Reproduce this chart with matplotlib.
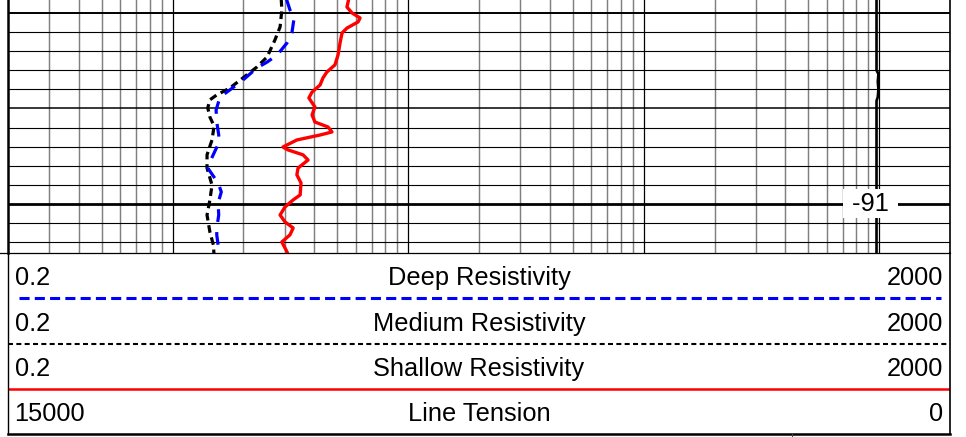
import matplotlib.pyplot as plt
from matplotlib.transforms import blended_transform_factory
from matplotlib.lines import Line2D

plt.rcParams['font.family'] = ['Liberation Sans', 'DejaVu Sans']

# elevation (ft) and curve readings taken off the log
shallow_elev = [-80.2, -80.69, -81.0, -81.26, -81.47, -81.79, -82.05, -82.57, -83.2, -83.72,
                -84.09, -84.4, -84.77, -85.14, -85.45, -85.92, -86.34, -86.71, -86.97, -87.23,
                -87.39, -87.65, -88.02, -88.17, -88.43, -88.7, -89.12, -89.48, -89.9, -90.53,
                -90.79, -91.16, -91.58, -91.94, -92.26, -92.62, -92.99, -93.51, -93.7]
shallow_res = [5.61, 5.50, 5.78, 6.25, 6.13, 5.50, 5.24, 5.14, 5.04, 4.89,
               4.52, 4.35, 4.23, 3.91, 3.79, 4.02, 3.91, 4.02, 4.57, 4.75,
               4.23, 3.37, 2.94, 3.09, 3.58, 3.76, 3.41, 3.37, 3.51, 3.48,
               3.25, 3.00, 2.86, 3.00, 3.25, 3.15, 2.91, 3.06, 3.10]

medium_elev = [-80.2, -80.84, -81.73, -82.41, -83.3, -83.83, -84.4, -84.93, -85.29, -85.55,
               -85.97, -86.45, -86.92, -87.65, -88.43, -89.12, -90.01, -90.79, -91.58, -92.47,
               -93.15, -93.7]
medium_res = [2.89, 2.91, 2.86, 2.72, 2.52, 2.28, 1.99, 1.75, 1.54, 1.44,
              1.41, 1.44, 1.50, 1.47, 1.40, 1.40, 1.47, 1.44, 1.40, 1.44,
              1.49, 1.50]

deep_elev = [-80.2, -80.84, -81.26, -82.05, -82.57, -83.2, -83.57, -83.88, -84.51, -85.03,
             -85.4, -86.08, -86.71, -87.39, -87.81, -88.8, -89.12, -89.9, -90.37, -90.95,
             -91.58, -92.26, -92.62, -93.41, -93.7]
deep_res = [3.03, 3.15, 3.28, 3.21, 3.06, 2.78, 2.52, 2.28, 1.99, 1.75,
            1.59, 1.53, 1.54, 1.57, 1.57, 1.44, 1.41, 1.56, 1.61, 1.56,
            1.57, 1.54, 1.54, 1.57, 1.57]

tension_elev = [-80.2, -84.0, -84.2, -84.6, -85.0, -85.4, -85.6, -93.7]
tension_val = [1170, 1170, 1140, 1150, 1140, 1150, 1170, 1170]

res_range = (0.2, 2000)
tension_range = (15000, 0)
elev_range = (-93.57, -80.32)
depth_label = -91

header_rows = [('0.2', 'Deep Resistivity', '2000'),
               ('0.2', 'Medium Resistivity', '2000'),
               ('0.2', 'Shallow Resistivity', '2000'),
               ('15000', 'Line Tension', '0')]

FS = 18.3
W, H = 966, 437
fig = plt.figure(figsize=(W / 100, H / 100), dpi=100)

# ---- log track
ax = fig.add_axes([8 / W, (H - 253) / H, 942 / W, 253 / H])
ax.set_xscale('log')
ax.set_xlim(*res_range)
ax.set_ylim(*elev_range)
ax.set_xticks([])
ax.set_yticks([])
ax.minorticks_off()
ax.spines['top'].set_visible(False)
ax.spines['left'].set_linewidth(1.8)
ax.spines['right'].set_linewidth(1.2)
ax.spines['bottom'].set_linewidth(0.9)

# vertical log grid
for e in [-1, 0, 1, 2, 3]:
    for m in range(1, 10):
        v = m * 10.0 ** e
        if v <= res_range[0] or v >= res_range[1]:
            continue
        if m == 1:
            ax.axvline(v, color='black', lw=0.9, zorder=1)
        else:
            ax.axvline(v, color='#808080', lw=1.05, zorder=1)

# horizontal depth grid
for el in range(-93, -80):
    if el == -91:
        lw = 2.0
    elif el == -81:
        lw = 1.4
    elif el == -86:
        lw = 1.1
    else:
        lw = 0.8
    ax.axhline(el, color='black', lw=lw, zorder=1)

ax.plot(shallow_res, shallow_elev, color='red', lw=2.4, zorder=3)
ax.plot(medium_res, medium_elev, color='black', lw=2.3, dashes=(2.4, 1.5), zorder=3)
ax.plot(deep_res, deep_elev, color='blue', lw=2.3, dashes=(4, 3.2), zorder=3)

ax2 = ax.twiny()
ax2.set_xlim(*tension_range)
ax2.set_ylim(*elev_range)
ax2.axis('off')
ax2.plot(tension_val, tension_elev, color='black', lw=1.9, zorder=3)

tr = blended_transform_factory(ax2.transAxes, ax.transData)
ax2.text(0.9156, depth_label, ' %d ' % depth_label, transform=tr, ha='center', va='center',
         fontsize=FS, zorder=5,
         bbox=dict(boxstyle='square,pad=0.1', fc='white', ec='none'))

# ---- header
hx = fig.add_axes([8 / W, (H - 434) / H, 942 / W, 181 / H])
hx.set_xlim(0, 1)
hx.set_ylim(4, 0)
hx.axis('off')
for i, (lo, name, hi) in enumerate(header_rows):
    yc = i + 0.56
    hx.text(0.007, yc, lo, ha='left', va='center', fontsize=FS)
    hx.text(0.5, yc, name, ha='center', va='center', fontsize=FS)
    hx.text(0.9926, yc, hi, ha='right', va='center', fontsize=FS)

hx.plot([0.012, 0.99], [1, 1], color='blue', lw=2.2, dashes=(3.3, 1.7))
hx.plot([0, 1], [2, 2], color='black', lw=1.5, dashes=(2.4, 1.6))
hx.plot([0, 1], [3, 3], color='red', lw=1.8)
hx.plot([0, 1], [4, 4], color='black', lw=1.8, clip_on=False)
hx.plot([0, 0], [0, 4], color='black', lw=1.0, clip_on=False)
hx.plot([1, 1], [0, 4], color='black', lw=1.2, clip_on=False)

fig.add_artist(Line2D([0, 8 / W], [(H - 253) / H] * 2, color='black', lw=0.9))
fig.add_artist(Line2D([792 / W] * 2, [0, 3 / H], color='#444444', lw=0.8))

fig.savefig('out.png', dpi=100)
